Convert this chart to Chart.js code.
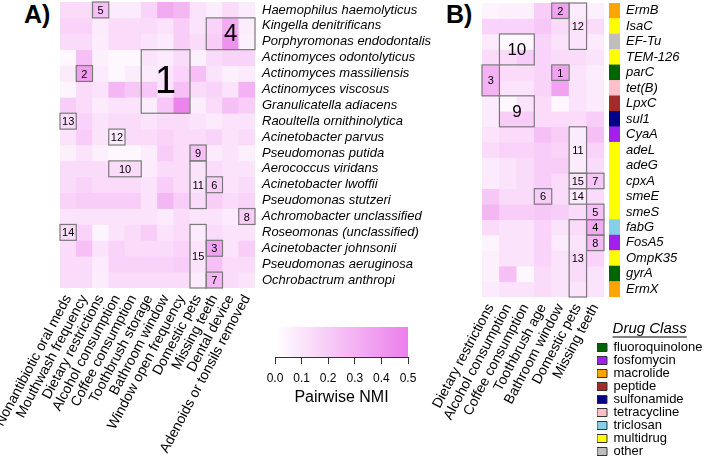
<!DOCTYPE html>
<html>
<head>
<meta charset="utf-8">
<script src="https://cdn.jsdelivr.net/npm/chart.js@4.4.1/dist/chart.umd.min.js"></script>
<style>
  body { margin: 0; background: #fff; width: 709px; height: 460px; position: relative; overflow: hidden; font-family: "Liberation Sans", Arial, sans-serif; }
  canvas { position: absolute; }
  .panel { position: absolute; font-weight: bold; font-size: 25px; line-height: 25px; color: #000; }
</style>
</head>
<body>
<div class="panel" style="left:24px; top:2px">A)</div>
<div class="panel" style="left:446px; top:2px">B)</div>
<canvas id="chartA" width="460" height="460" style="left:0; top:0"></canvas>
<canvas id="colorbar" width="160" height="100" style="left:262px; top:320px"></canvas>
<canvas id="chartB" width="229" height="460" style="left:380px; top:0"></canvas>
<canvas id="strip" width="109" height="300" style="left:600px; top:0"></canvas>
<canvas id="legend" width="115" height="160" style="left:597px; top:318px"></canvas>
<script>
// ---- data: panel A (species) ----
const speciesCols = ['Nonantibiotic oral meds', 'Mouthwash frequency', 'Dietary restrictions', 'Alcohol consumption',
  'Coffee consumption', 'Toothbrush storage', 'Bathroom window', 'Window open frequency', 'Domestic pets',
  'Missing teeth', 'Dental device', 'Adenoids or tonsils removed'];
const speciesRows = ['Haemophilus haemolyticus', 'Kingella denitrificans', 'Porphyromonas endodontalis',
  'Actinomyces odontolyticus', 'Actinomyces massiliensis', 'Actinomyces viscosus', 'Granulicatella adiacens',
  'Raoultella ornithinolytica', 'Acinetobacter parvus', 'Pseudomonas putida', 'Aerococcus viridans',
  'Acinetobacter lwoffii', 'Pseudomonas stutzeri', 'Achromobacter unclassified', 'Roseomonas (unclassified)',
  'Acinetobacter johnsonii', 'Pseudomonas aeruginosa', 'Ochrobactrum anthropi'];
const speciesNMI = [
  [0.14, 0.14, 0.25, 0.08, 0.08, 0.17, 0.33, 0.28, 0.11, 0.07, 0.14, 0.08],
  [0.17, 0.17, 0.08, 0.14, 0.14, 0.14, 0.11, 0.19, 0.11, 0.17, 0.33, 0.07],
  [0.14, 0.14, 0.07, 0.14, 0.14, 0.11, 0.08, 0.19, 0.14, 0.19, 0.43, 0.06],
  [0.03, 0.25, 0.06, 0.03, 0.03, 0.11, 0.08, 0.14, 0.06, 0.14, 0.17, 0.17],
  [0.08, 0.38, 0.08, 0.03, 0.07, 0.08, 0.11, 0.17, 0.25, 0.11, 0.06, 0.08],
  [0.04, 0.14, 0.11, 0.28, 0.22, 0.22, 0.11, 0.25, 0.14, 0.17, 0.11, 0.30],
  [0.19, 0.14, 0.08, 0.11, 0.11, 0.07, 0.22, 0.48, 0.07, 0.14, 0.25, 0.19],
  [0.14, 0.17, 0.11, 0.14, 0.14, 0.11, 0.14, 0.14, 0.11, 0.08, 0.11, 0.11],
  [0.11, 0.19, 0.11, 0.08, 0.14, 0.14, 0.17, 0.14, 0.14, 0.17, 0.11, 0.14],
  [0.06, 0.11, 0.06, 0.03, 0.03, 0.07, 0.19, 0.14, 0.25, 0.08, 0.11, 0.06],
  [0.14, 0.14, 0.14, 0.14, 0.14, 0.08, 0.14, 0.14, 0.11, 0.14, 0.11, 0.11],
  [0.14, 0.17, 0.14, 0.14, 0.14, 0.11, 0.19, 0.14, 0.11, 0.19, 0.11, 0.14],
  [0.17, 0.19, 0.19, 0.19, 0.19, 0.11, 0.28, 0.19, 0.14, 0.19, 0.14, 0.17],
  [0.11, 0.11, 0.11, 0.11, 0.11, 0.11, 0.08, 0.14, 0.11, 0.11, 0.08, 0.19],
  [0.14, 0.17, 0.04, 0.11, 0.14, 0.19, 0.11, 0.14, 0.08, 0.14, 0.11, 0.11],
  [0.14, 0.25, 0.11, 0.17, 0.14, 0.14, 0.14, 0.17, 0.11, 0.36, 0.11, 0.19],
  [0.14, 0.14, 0.08, 0.17, 0.17, 0.17, 0.17, 0.19, 0.11, 0.25, 0.14, 0.14],
  [0.14, 0.14, 0.07, 0.14, 0.14, 0.14, 0.14, 0.14, 0.08, 0.28, 0.14, 0.11]
];
const speciesBoxes = [
  {label: '5', cols: [2, 2], rows: [0, 0]},
  {label: '4', cols: [9, 11], rows: [1, 2]},
  {label: '1', cols: [5, 7], rows: [3, 6]},
  {label: '2', cols: [1, 1], rows: [4, 4]},
  {label: '13', cols: [0, 0], rows: [7, 7]},
  {label: '12', cols: [3, 3], rows: [8, 8]},
  {label: '9', cols: [8, 8], rows: [9, 9]},
  {label: '10', cols: [3, 4], rows: [10, 10]},
  {label: '11', cols: [8, 8], rows: [10, 12]},
  {label: '6', cols: [9, 9], rows: [11, 11]},
  {label: '8', cols: [11, 11], rows: [13, 13]},
  {label: '14', cols: [0, 0], rows: [14, 14]},
  {label: '15', cols: [8, 8], rows: [14, 17]},
  {label: '3', cols: [9, 9], rows: [15, 15]},
  {label: '7', cols: [9, 9], rows: [17, 17]}
];

// ---- data: panel B (resistance genes) ----
const geneCols = ['Dietary restrictions', 'Alcohol consumption', 'Coffee consumption', 'Toothbrush age',
  'Bathroom window', 'Domestic pets', 'Missing teeth'];
const geneRows = ['ErmB', 'IsaC', 'EF-Tu', 'TEM-126', 'parC', 'tet(B)', 'LpxC', 'sul1', 'CyaA', 'adeL',
  'adeG', 'cpxA', 'smeE', 'smeS', 'fabG', 'FosA5', 'OmpK35', 'gyrA', 'ErmX'];
const geneNMI = [
  [0.04, 0.06, 0.06, 0.19, 0.36, 0.08, 0.06],
  [0.17, 0.17, 0.17, 0.22, 0.14, 0.11, 0.14],
  [0.08, 0.03, 0.03, 0.17, 0.11, 0.11, 0.08],
  [0.14, 0.14, 0.19, 0.17, 0.14, 0.14, 0.11],
  [0.30, 0.14, 0.14, 0.17, 0.36, 0.11, 0.07],
  [0.30, 0.11, 0.11, 0.17, 0.36, 0.11, 0.08],
  [0.08, 0.03, 0.11, 0.14, 0.03, 0.11, 0.08],
  [0.08, 0.19, 0.19, 0.14, 0.14, 0.14, 0.19],
  [0.11, 0.14, 0.14, 0.25, 0.19, 0.08, 0.25],
  [0.14, 0.17, 0.17, 0.19, 0.17, 0.08, 0.17],
  [0.08, 0.11, 0.14, 0.19, 0.19, 0.08, 0.14],
  [0.08, 0.11, 0.14, 0.19, 0.14, 0.11, 0.22],
  [0.22, 0.14, 0.14, 0.19, 0.14, 0.08, 0.14],
  [0.28, 0.19, 0.19, 0.22, 0.19, 0.14, 0.25],
  [0.14, 0.11, 0.11, 0.17, 0.11, 0.14, 0.33],
  [0.04, 0.11, 0.11, 0.17, 0.08, 0.11, 0.28],
  [0.06, 0.11, 0.11, 0.17, 0.11, 0.14, 0.17],
  [0.06, 0.25, 0.03, 0.14, 0.11, 0.14, 0.11],
  [0.08, 0.11, 0.11, 0.14, 0.11, 0.11, 0.11]
];
const geneBoxes = [
  {label: '2', cols: [4, 4], rows: [0, 0]},
  {label: '12', cols: [5, 5], rows: [0, 2]},
  {label: '10', cols: [1, 2], rows: [2, 3]},
  {label: '3', cols: [0, 0], rows: [4, 5]},
  {label: '1', cols: [4, 4], rows: [4, 4]},
  {label: '9', cols: [1, 2], rows: [6, 7]},
  {label: '11', cols: [5, 5], rows: [8, 10]},
  {label: '15', cols: [5, 5], rows: [11, 11]},
  {label: '7', cols: [6, 6], rows: [11, 11]},
  {label: '6', cols: [3, 3], rows: [12, 12]},
  {label: '14', cols: [5, 5], rows: [12, 12]},
  {label: '5', cols: [6, 6], rows: [13, 13]},
  {label: '4', cols: [6, 6], rows: [14, 14]},
  {label: '8', cols: [6, 6], rows: [15, 15]},
  {label: '13', cols: [5, 5], rows: [14, 18]}
];
const geneClass = ['macrolide', 'multidrug', 'other', 'multidrug', 'fluoroquinolone', 'tetracycline', 'peptide',
  'sulfonamide', 'fosfomycin', 'multidrug', 'multidrug', 'multidrug', 'multidrug', 'multidrug', 'triclosan',
  'fosfomycin', 'multidrug', 'fluoroquinolone', 'macrolide'];
const classNames = ['fluoroquinolone', 'fosfomycin', 'macrolide', 'peptide', 'sulfonamide', 'tetracycline',
  'triclosan', 'multidrug', 'other'];
const classColors = ['#006400', '#A020F0', '#FFA500', '#A52A2A', '#00008B', '#FFC0CB', '#87CEEB', '#FFFF00', '#BEBEBE'];

const nmiTicks = [0, 0.1, 0.2, 0.3, 0.4, 0.5];

const FONT = '"Liberation Sans", Arial, sans-serif';

// white -> violet colour scale
function nmiColor(v) {
  const t = Math.max(0, Math.min(v / 0.5, 1));
  const r = Math.round(255 - t * 19);
  const g = Math.round(255 - t * 128);
  return `rgb(${r},${g},${r})`;
}

// outline + number for each cluster box
function boxPlugin(boxes) {
  return {
    id: 'clusterBoxes',
    afterDatasetsDraw(chart) {
      const {ctx, scales: {x, y}} = chart;
      const w = x.width / chart.data.labels.length;
      ctx.save();
      boxes.forEach(b => {
        const x0 = x.left + b.cols[0] * w, x1 = x.left + (b.cols[1] + 1) * w;
        const y0 = y.getPixelForValue(b.rows[0]), y1 = y.getPixelForValue(b.rows[1] + 1);
        ctx.strokeStyle = '#7a7a7a';
        ctx.lineWidth = 1.2;
        ctx.strokeRect(x0, y0, x1 - x0, y1 - y0);
        const nc = b.cols[1] - b.cols[0] + 1, nr = b.rows[1] - b.rows[0] + 1;
        let size = 11;
        if (nc > 1 && nr > 1) size = nc * nr >= 12 ? 38 : nc * nr >= 6 ? 24 : 17;
        ctx.font = `${size}px ${FONT}`;
        ctx.fillStyle = '#000';
        ctx.textAlign = 'center';
        ctx.textBaseline = 'middle';
        ctx.fillText(b.label, (x0 + x1) / 2, (y0 + y1) / 2 + 1);
      });
      ctx.restore();
    }
  };
}

function heatmap(id, cols, rows, values, boxes, opts) {
  return new Chart(document.getElementById(id), {
    type: 'bar',
    data: {
      labels: cols,
      datasets: rows.map((name, r) => ({
        label: name,
        data: cols.map(() => [r, r + 1]),
        backgroundColor: values[r].map(nmiColor),
        borderWidth: 0,
        grouped: false,
        barPercentage: 1,
        categoryPercentage: 1
      }))
    },
    options: {
      responsive: false,
      animation: false,
      layout: {padding: opts.padding},
      plugins: {legend: {display: false}, tooltip: {enabled: false}},
      scales: {
        x: {
          grid: {display: false, drawTicks: false},
          border: {display: false},
          ticks: {minRotation: 62, maxRotation: 62, autoSkip: false, padding: 4, color: '#000',
                  font: {size: 14, family: FONT}},
          afterFit: s => { s.height = opts.xHeight; s.paddingLeft = 0; s.paddingRight = 0; }
        },
        y: {
          type: 'linear',
          reverse: true,
          min: 0,
          max: rows.length,
          position: 'right',
          display: opts.showRows,
          grid: {display: false, drawTicks: false},
          border: {display: false},
          afterBuildTicks: s => { s.ticks = rows.map((_, i) => ({value: i + 0.5})); },
          ticks: {autoSkip: false, padding: 7, color: '#000', font: {size: 13, style: 'italic', family: FONT},
                  callback: (v, i) => rows[i]},
          afterFit: s => { s.width = opts.yWidth; s.paddingTop = 0; s.paddingBottom = 0; }
        }
      }
    },
    plugins: [boxPlugin(boxes)]
  });
}

heatmap('chartA', speciesCols, speciesRows, speciesNMI, speciesBoxes,
  {padding: {left: 60, top: 2, right: 0, bottom: 0}, xHeight: 172, yWidth: 205, showRows: true});
heatmap('chartB', geneCols, geneRows, geneNMI, geneBoxes,
  {padding: {left: 102, top: 3, right: 5, bottom: 0}, xHeight: 163, yWidth: 0, showRows: false});

// drug class strip with gene names
new Chart(document.getElementById('strip'), {
  type: 'bar',
  data: {
    labels: geneRows,
    datasets: [{
      data: geneRows.map(() => 1),
      backgroundColor: geneClass.map(c => classColors[classNames.indexOf(c)]),
      borderWidth: 0,
      barPercentage: 1,
      categoryPercentage: 1
    }]
  },
  options: {
    indexAxis: 'y',
    responsive: false,
    animation: false,
    layout: {padding: {left: 9, top: 3, bottom: 3, right: 0}},
    plugins: {legend: {display: false}, tooltip: {enabled: false}},
    scales: {
      x: {display: false, min: 0, max: 1},
      y: {
        position: 'right',
        grid: {display: false, drawTicks: false},
        border: {display: false},
        ticks: {autoSkip: false, padding: 6, color: '#000', font: {size: 13, style: 'italic', family: FONT}},
        afterFit: s => { s.width = 89; s.paddingTop = 0; s.paddingBottom = 0; }
      }
    }
  }
});

// colour bar
new Chart(document.getElementById('colorbar'), {
  type: 'bar',
  data: {
    labels: ['NMI'],
    datasets: [{
      data: [[nmiTicks[0], nmiTicks[nmiTicks.length - 1]]],
      backgroundColor: c => {
        const {chart} = c;
        const xs = chart.scales.x;
        if (!chart.chartArea || !xs) return nmiColor(0.25);
        const g = chart.ctx.createLinearGradient(xs.getPixelForValue(0), 0, xs.getPixelForValue(0.5), 0);
        g.addColorStop(0, nmiColor(0));
        g.addColorStop(1, nmiColor(0.5));
        return g;
      },
      borderWidth: 0,
      barPercentage: 1,
      categoryPercentage: 1
    }]
  },
  options: {
    indexAxis: 'y',
    responsive: false,
    animation: false,
    layout: {padding: {left: 13, right: 14, top: 7, bottom: 0}},
    plugins: {legend: {display: false}, tooltip: {enabled: false}},
    scales: {
      y: {display: false},
      x: {
        min: 0, max: 0.5,
        afterBuildTicks: s => { s.ticks = nmiTicks.map(v => ({value: v})); },
        grid: {drawOnChartArea: false, tickLength: 7, color: '#333'},
        border: {display: true, color: '#333'},
        ticks: {callback: v => v.toFixed(1), padding: 7, color: '#000', font: {size: 12, family: FONT}},
        title: {display: true, text: 'Pairwise NMI', color: '#000', font: {size: 16, family: FONT}, padding: {top: 0, bottom: 13}},
        afterFit: s => { s.height = 63; s.paddingLeft = 0; s.paddingRight = 0; }
      }
    }
  }
});

// drug class legend (title underlined)
const underline = {
  id: 'underline',
  afterDraw(chart) {
    const lg = chart.legend;
    const t = lg.options.title;
    const ctx = chart.ctx;
    ctx.save();
    ctx.font = `italic ${t.font.size}px ${FONT}`;
    const tw = ctx.measureText(t.text).width;
    const cx = lg.left + Math.max(...lg.lineWidths) / 2;
    const yy = lg.top + t.padding.top + t.font.size + 1;
    ctx.strokeStyle = '#000';
    ctx.lineWidth = 1;
    ctx.beginPath();
    ctx.moveTo(cx - tw / 2, yy);
    ctx.lineTo(cx + tw / 2, yy);
    ctx.stroke();
    ctx.restore();
  }
};

new Chart(document.getElementById('legend'), {
  type: 'bar',
  data: {
    labels: [],
    datasets: classNames.map((n, i) => ({label: n, data: [], backgroundColor: classColors[i], borderColor: '#333', borderWidth: 1}))
  },
  options: {
    responsive: false,
    animation: false,
    plugins: {
      tooltip: {enabled: false},
      legend: {
        position: 'top',
        align: 'start',
        maxHeight: 200,
        labels: {boxWidth: 10, boxHeight: 8, padding: 0, color: '#000', font: {size: 13, family: FONT}},
        title: {display: true, text: 'Drug Class', color: '#000', font: {size: 15, style: 'italic', family: FONT}, padding: {top: 3, bottom: 2}}
      }
    },
    scales: {x: {display: false}, y: {display: false}}
  },
  plugins: [underline]
});
</script>
</body>
</html>
